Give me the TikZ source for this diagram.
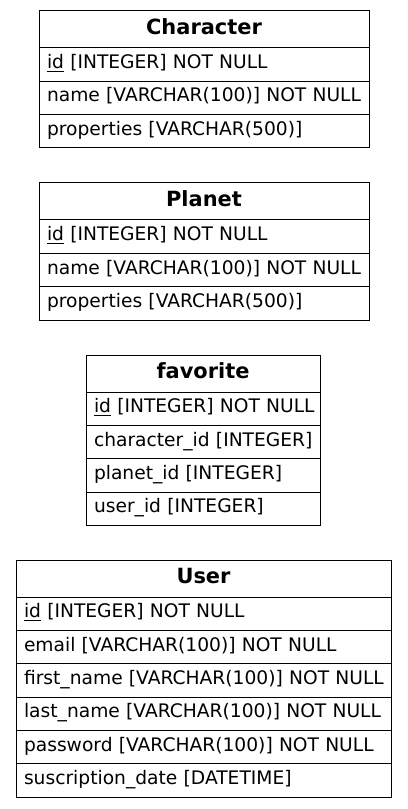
\documentclass[tikz,border=0pt]{standalone}
\usepackage{fontspec}
\setmainfont{DejaVu Sans}
\usetikzlibrary{positioning}

\tikzset{
    tablehead/.style={draw, line width=0.75pt, outer sep=0pt, inner sep=0pt, minimum width=#1, minimum height=27.75pt, text height=12pt, text depth=3.8pt, font=\fontsize{15.7pt}{18pt}\selectfont\bfseries},
    tablerow/.style={draw, line width=0.75pt, outer sep=0pt, inner xsep=6pt, inner ysep=0pt, text width=#1, align=left, minimum height=25pt, text height=10pt, text depth=4pt, execute at begin node=\hbox\bgroup, execute at end node=\egroup}
}

\begin{document}
\begin{tikzpicture}[x=0.75pt, y=-0.75pt, font=\fontsize{14pt}{17pt}\selectfont]

    \useasboundingbox (0,0) rectangle (407,809);

    %nodes
    \node[tablehead=247.5pt, anchor=north] (charHead) at (204,11) {Character};
    \node[tablerow=235.5pt, below=0pt of charHead] (charId) {\underline{id} [INTEGER] NOT NULL};
    \node[tablerow=235.5pt, below=0pt of charId] (charName) {name [VARCHAR(100)] NOT NULL};
    \node[tablerow=235.5pt, below=0pt of charName] (charProps) {properties [VARCHAR(500)]};

    \node[tablehead=247.5pt, anchor=north] (planetHead) at (204,183) {Planet};
    \node[tablerow=235.5pt, below=0pt of planetHead] (planetId) {\underline{id} [INTEGER] NOT NULL};
    \node[tablerow=235.5pt, below=0pt of planetId] (planetName) {name [VARCHAR(100)] NOT NULL};
    \node[tablerow=235.5pt, below=0pt of planetName] (planetProps) {properties [VARCHAR(500)]};

    \node[tablehead=175.5pt, anchor=north] (favHead) at (203,355) {favorite};
    \node[tablerow=163.5pt, below=0pt of favHead] (favId) {\underline{id} [INTEGER] NOT NULL};
    \node[tablerow=163.5pt, below=0pt of favId] (favChar) {character\_id [INTEGER]};
    \node[tablerow=163.5pt, below=0pt of favChar] (favPlanet) {planet\_id [INTEGER]};
    \node[tablerow=163.5pt, below=0pt of favPlanet] (favUser) {user\_id [INTEGER]};

    \node[tablehead=281.25pt, anchor=north] (userHead) at (203.5,560) {User};
    \node[tablerow=269.25pt, below=0pt of userHead] (userId) {\underline{id} [INTEGER] NOT NULL};
    \node[tablerow=269.25pt, below=0pt of userId] (userEmail) {email [VARCHAR(100)] NOT NULL};
    \node[tablerow=269.25pt, below=0pt of userEmail] (userFirst) {first\_name [VARCHAR(100)] NOT NULL};
    \node[tablerow=269.25pt, below=0pt of userFirst] (userLast) {last\_name [VARCHAR(100)] NOT NULL};
    \node[tablerow=269.25pt, below=0pt of userLast] (userPass) {password [VARCHAR(100)] NOT NULL};
    \node[tablerow=269.25pt, below=0pt of userPass] (userDate) {suscription\_date [DATETIME]};

\end{tikzpicture}
\end{document}
